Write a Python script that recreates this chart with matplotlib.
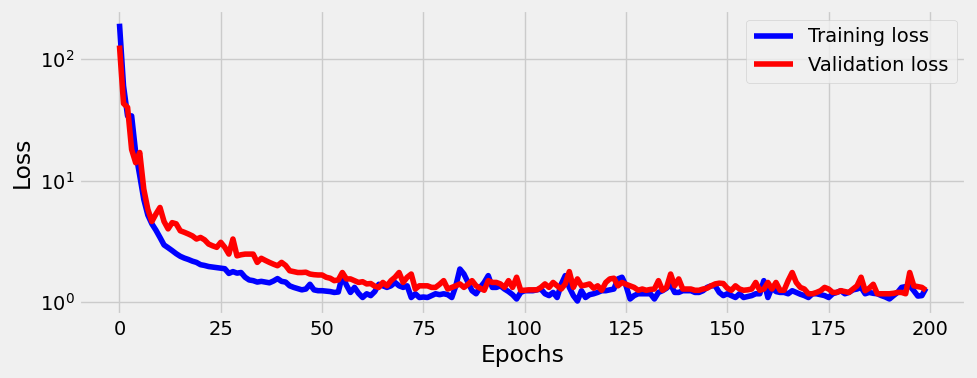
import matplotlib
matplotlib.use("Agg")
import matplotlib.pyplot as plt
import numpy as np

plt.style.use("fivethirtyeight")

# Loss per epoch
train_loss = [
    195, 60, 34, 34, 17, 11, 7.0, 5.2, 4.4, 3.9,
    3.4, 2.95, 2.8, 2.65, 2.5, 2.38, 2.3, 2.24, 2.17, 2.12,
    2.03, 2.0, 1.96, 1.94, 1.92, 1.9, 1.88, 1.72, 1.78, 1.73,
    1.75, 1.6, 1.52, 1.5, 1.46, 1.48, 1.46, 1.44, 1.49, 1.56,
    1.48, 1.46, 1.36, 1.32, 1.29, 1.26, 1.28, 1.40, 1.26, 1.24,
    1.24, 1.23, 1.22, 1.2, 1.21, 1.65, 1.38, 1.2, 1.32, 1.18,
    1.09, 1.17, 1.13, 1.22, 1.4, 1.36, 1.32, 1.36, 1.45, 1.36,
    1.32, 1.36, 1.09, 1.17, 1.09, 1.1, 1.09, 1.13, 1.17, 1.15,
    1.17, 1.15, 1.09, 1.36, 1.87, 1.7, 1.45, 1.24, 1.17, 1.32,
    1.45, 1.65, 1.32, 1.32, 1.36, 1.28, 1.22, 1.15, 1.06, 1.2,
    1.24, 1.24, 1.24, 1.26, 1.28, 1.17, 1.13, 1.2, 1.09, 1.4,
    1.65, 1.32, 1.13, 1.02, 1.24, 1.09, 1.15, 1.17, 1.2, 1.24,
    1.24, 1.26, 1.28, 1.55, 1.6, 1.36, 1.06, 1.13, 1.17, 1.17,
    1.17, 1.17, 1.06, 1.2, 1.24, 1.3, 1.4, 1.2, 1.2, 1.24,
    1.24, 1.24, 1.2, 1.2, 1.24, 1.32, 1.36, 1.36, 1.2, 1.13,
    1.17, 1.13, 1.09, 1.17, 1.09, 1.11, 1.13, 1.17, 1.17, 1.5,
    1.09, 1.32, 1.22, 1.2, 1.2, 1.17, 1.24, 1.2, 1.16, 1.13,
    1.09, 1.17, 1.17, 1.15, 1.13, 1.09, 1.17, 1.2, 1.24, 1.17,
    1.2, 1.26, 1.28, 1.32, 1.17, 1.2, 1.18, 1.17, 1.13, 1.1,
    1.06, 1.13, 1.2, 1.32, 1.34, 1.36, 1.24, 1.12, 1.13, 1.3,
]
val_loss = [
    129, 43, 40, 18, 14, 17, 8.5, 5.8, 4.6, 5.3,
    6.0, 4.6, 4.0, 4.5, 4.4, 3.86, 3.75, 3.63, 3.5, 3.3,
    3.4, 3.25, 3.0, 2.9, 2.82, 3.1, 2.82, 2.48, 3.3, 2.4,
    2.45, 2.48, 2.48, 2.48, 2.12, 2.29, 2.2, 2.12, 2.05, 1.99,
    2.12, 2.0, 1.81, 1.78, 1.75, 1.75, 1.76, 1.7, 1.68, 1.67,
    1.67, 1.6, 1.57, 1.5, 1.52, 1.75, 1.55, 1.55, 1.5, 1.45,
    1.47, 1.41, 1.42, 1.35, 1.32, 1.45, 1.36, 1.5, 1.6, 1.75,
    1.45, 1.6, 1.7, 1.28, 1.36, 1.36, 1.36, 1.32, 1.32, 1.4,
    1.5, 1.28, 1.32, 1.36, 1.41, 1.32, 1.4, 1.5, 1.36, 1.3,
    1.25, 1.5, 1.45, 1.45, 1.41, 1.32, 1.5, 1.32, 1.6, 1.25,
    1.25, 1.26, 1.26, 1.26, 1.32, 1.41, 1.32, 1.45, 1.36, 1.28,
    1.41, 1.78, 1.32, 1.55, 1.36, 1.38, 1.41, 1.3, 1.36, 1.25,
    1.45, 1.55, 1.57, 1.36, 1.45, 1.4, 1.36, 1.32, 1.25, 1.28,
    1.25, 1.27, 1.28, 1.5, 1.25, 1.32, 1.7, 1.36, 1.55, 1.28,
    1.28, 1.28, 1.25, 1.25, 1.28, 1.3, 1.36, 1.41, 1.43, 1.42,
    1.3, 1.25, 1.36, 1.28, 1.25, 1.26, 1.28, 1.45, 1.25, 1.28,
    1.45, 1.28, 1.45, 1.25, 1.25, 1.5, 1.75, 1.45, 1.32, 1.28,
    1.17, 1.17, 1.2, 1.24, 1.32, 1.28, 1.2, 1.2, 1.24, 1.22,
    1.2, 1.28, 1.36, 1.6, 1.24, 1.3, 1.4, 1.17, 1.17, 1.17,
    1.17, 1.18, 1.2, 1.2, 1.17, 1.75, 1.36, 1.34, 1.32, 1.25,
]
epochs = np.arange(len(train_loss))

fig, ax = plt.subplots(figsize=(9.77, 3.78), dpi=100)
fig.subplots_adjust(left=0.081, right=0.989, top=0.974, bottom=0.167)

ax.plot(epochs, train_loss, color="blue", label="Training loss")
ax.plot(epochs, val_loss, color="red", label="Validation loss")
ax.set_yscale("log")
ax.set_xlabel("Epochs")
ax.set_ylabel("Loss")
ax.legend(loc="upper right")

fig.savefig("out.png")
